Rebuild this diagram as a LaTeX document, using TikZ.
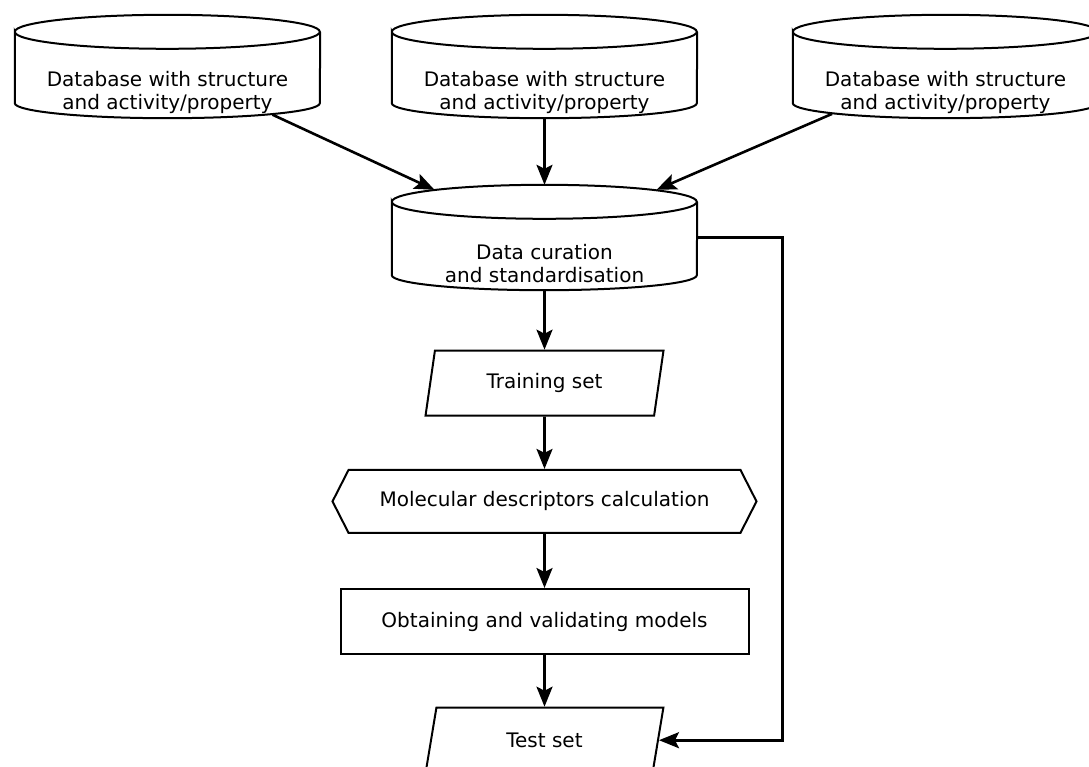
\documentclass[tikz,border=0pt]{standalone}
\usepackage{fontspec}
\setmainfont{DejaVu Sans}
\usetikzlibrary{positioning,shapes.geometric,shapes.symbols,arrows.meta}

% outline of a database drum round a named node
\newcommand{\dbshape}[1]{%
  \draw[outline] ([yshift=-17pt]#1.north west)
    arc[start angle=180,end angle=-180,x radius=152.5pt,y radius=17pt]
    -- ([yshift=15pt]#1.south west)
    arc[start angle=180,end angle=360,x radius=152.5pt,y radius=15pt]
    -- ([yshift=-17pt]#1.north east);}

\tikzset{
  outline/.style={line width=2pt},
  dbase/.style={minimum width=305pt,minimum height=103pt,inner sep=0pt},
  dbtext/.style={align=center,yshift=-26pt,inner sep=0pt},
  dataio/.style={draw,outline,trapezium,trapezium left angle=75.6,trapezium right angle=104.4,
    trapezium stretches=true,minimum width=238pt,minimum height=65pt,inner sep=0pt},
  prep/.style={draw,outline,signal,signal to=west and east,signal pointer angle=126,
    minimum width=424pt,minimum height=63pt,inner sep=0pt},
  proc/.style={draw,outline,rectangle,minimum width=408pt,minimum height=65pt},
  flow/.style={line width=2.6pt,-{Stealth[length=20pt,width=16pt,inset=4pt]}}
}

\begin{document}
\begin{tikzpicture}[x=1pt,y=-1pt,font=\fontsize{20}{23}\selectfont,on grid]
\useasboundingbox (0,0) rectangle (1089,767);

\node[dbase,label={[dbtext]center:Database with structure\\and activity/property}] (db1) at (167.5,66.5) {};
\node[dbase,label={[dbtext]center:Database with structure\\and activity/property}] (db2) at (544.5,66.5) {};
\node[dbase,label={[dbtext]center:Database with structure\\and activity/property}] (db3) at (945.5,66.5) {};
\node[dbase,minimum height=105pt,label={[dbtext]center:Data curation\\and standardisation}] (cur) at (544.5,237.5) {};

\node[dataio,below=145.7pt of cur] (train) {Training set};
\node[prep,below=118.2pt of train] (desc) {Molecular descriptors calculation};
\node[proc,below=120.1pt of desc] (models) {Obtaining and validating models};
\node[dataio,below=118.7pt of models] (test) {Test set};

\dbshape{db1}
\dbshape{db2}
\dbshape{db3}
\dbshape{cur}

\draw[flow] ([xshift=105pt,yshift=3.5pt]db1.south) -- ([xshift=-110pt,yshift=-5pt]cur.north);
\draw[flow] (db2.south) -- (cur.north);
\draw[flow] ([xshift=-113.5pt,yshift=4.3pt]db3.south) -- ([xshift=112pt,yshift=-5pt]cur.north);
\draw[flow] (cur.south) -- (train.north);
\draw[flow] (train.south) -- (desc.north);
\draw[flow] (desc.south) -- (models.north);
\draw[flow] (models.south) -- (test.north);
\draw[flow] (cur.east) -- ++(85,0) |- (test.east);
\end{tikzpicture}
\end{document}
